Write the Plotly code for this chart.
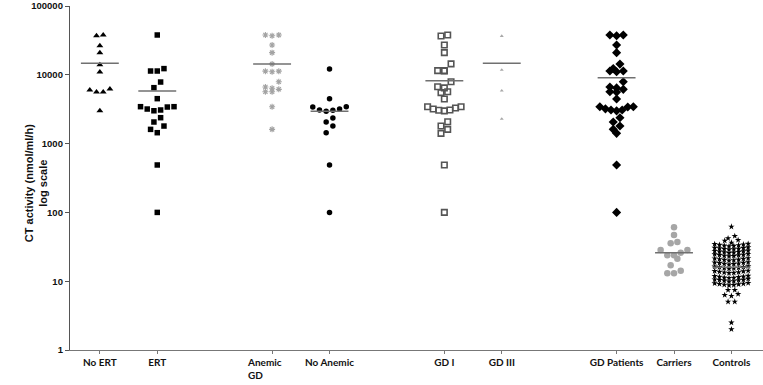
import numpy as np
import plotly.graph_objects as go

# ---------------- data ----------------
categories = ["No ERT", "ERT", "Anemic GD", "No Anemic", "GD I", "GD III",
              "GD Patients", "Carriers", "Controls"]
tick_labels = ["No ERT", "ERT", "", "No Anemic", "GD I", "GD III",
               "GD Patients", "Carriers", "Controls"]
group_sizes = [2, 2, 2, 3]          # categories per cluster along the x axis

no_ert = [37000, 38000, 26500, 21000, 14000, 11000, 6200, 5600, 5600, 6000, 3000]
ert = [37900, 11350, 11350, 12300, 7850, 6500, 4500, 3440, 3180, 3000, 3080,
       3400, 3440, 2380, 2060, 1800, 1610, 1440, 489, 100]
anemic_gd = [37900, 37000, 37900, 27100, 21000, 14400, 11300, 11100, 11300,
             7940, 6650, 6150, 5680, 5680, 6370, 3440, 1610]
no_anemic = [12100, 4500, 3400, 3080, 2950, 3050, 3180, 3440, 2350, 2060,
             1800, 1440, 489, 100]
gd_1 = [36600, 37900, 27100, 21000, 14400, 11500, 11350, 11500, 7940, 6700,
        6450, 5680, 5500, 4450, 3440, 3300, 3080, 2990, 3050, 3180, 3440,
        2080, 1800, 1610, 1410, 489, 100]
gd_3 = [36600, 11750, 5870, 2280]
gd_patients = [37900, 37000, 37900, 27100, 21000, 14300, 11350, 11100, 11350,
               12300, 7940, 6450, 5680, 5600, 6150, 6650, 4450, 3440, 3400,
               3080, 2990, 3080, 3200, 3440, 2380, 2060, 1800, 1610, 1410,
               489, 100]
carriers = [60.7, 47, 35.6, 37.2, 28.4, 25.9, 23.8, 21.2, 23.8, 28.4, 17.0,
            14.2, 13.0, 13.0]
controls = [62, 45.4, 42, 39.7, 38.8, 36.3,
            35.0, 34.6, 34.2, 33.8, 33.4, 33.0, 32.6, 32.2,
            31.0, 30.6, 30.3, 30.0, 29.7, 29.4, 29.1, 28.8,
            27.8, 27.5, 27.2, 26.9, 26.6, 26.3, 26.0, 25.7,
            24.9, 24.6, 24.3, 24.0, 23.8, 23.5, 23.2, 23.0,
            21.6, 21.4, 21.1, 20.9, 20.6, 20.4, 20.2, 20.0,
            18.9, 18.7, 18.5, 18.3, 18.1, 17.9, 17.7, 17.5,
            16.5, 16.3, 16.1, 15.9, 15.7, 15.5, 15.4, 15.2,
            14.2, 14.0, 13.9, 13.7, 13.5, 13.4, 13.2, 13.1,
            12.0, 11.9, 11.7, 11.6, 11.5, 11.3, 11.2, 11.1,
            10.8, 10.6, 10.5, 10.4, 10.3, 10.2, 10.0, 9.9,
            9.4, 9.3, 9.2, 9.1, 9.0, 8.9, 8.8, 8.7,
            7.45, 7.45, 6.5, 6.3, 6.1, 5.04, 5.04, 2.5, 2.0]
series = [no_ert, ert, anemic_gd, no_anemic, gd_1, gd_3, gd_patients, carriers, controls]
group_means = [14700, 5820, 14300, 2950, 8200, 14700, 9080, 25.9, 15.9]

y_tick_vals = [1, 10, 100, 1000, 10000, 100000]
y_tick_text = ["1", "10", "100", "1000", "10000", "100000"]

# ---------------- styles ----------------
W, H = 763, 385
M = dict(l=70, r=0, t=6, b=35)
X_RANGE = [-0.52, 11.55]
Y_RANGE = [0, 5]
PLOT_W = W - M["l"] - M["r"]
PLOT_H = H - M["t"] - M["b"]
px_per_x = PLOT_W / (X_RANGE[1] - X_RANGE[0])
px_per_dec = PLOT_H / (Y_RANGE[1] - Y_RANGE[0])

styles = [
    dict(symbol="triangle-up", size=6, color="black", line=dict(width=0)),
    dict(symbol="square", size=5.5, color="black", line=dict(width=0)),
    dict(symbol="asterisk-open", size=5, color="#a3a3a3", line=dict(width=1.1, color="#a3a3a3")),
    dict(symbol="circle", size=5.5, color="black", line=dict(width=0)),
    dict(symbol="square-open", size=5.5, color="#555555", line=dict(width=1.6, color="#555555")),
    dict(symbol="triangle-up", size=3.5, color="#a8a8a8", line=dict(width=0)),
    dict(symbol="diamond", size=7, color="black", line=dict(width=0)),
    dict(symbol="circle", size=6.5, color="#a6a6a6", line=dict(width=0)),
    dict(symbol="star", size=4.8, color="black", line=dict(width=0)),
]
row_tol_px = [6.8, 6.8, 6.8, 6.8, 6.8, 6.8, 6.8, 6.8, 2.75]
SPACING_PX = 6.7
MAX_ROW_PX = 33.5
MEAN_HALF = 0.33

# positions of categories: clusters separated by a gap of one slot
positions = []
p = 0
for g in group_sizes:
    for _ in range(g):
        positions.append(p)
        p += 1
    p += 1


def swarm_offsets(vals, tol_px):
    """Prism-like row layout: values within tol of a row start share a row,
    spread symmetrically with lowest values in the middle."""
    lv = np.log10(np.asarray(vals, dtype=float))
    order = np.argsort(-lv, kind="stable")
    rows, cur, start = [], [], None
    tol = tol_px / px_per_dec
    for i in order:
        if start is None or start - lv[i] > tol:
            if cur:
                rows.append(cur)
            cur, start = [i], lv[i]
        else:
            cur.append(i)
    if cur:
        rows.append(cur)
    off = np.zeros(len(vals))
    for r in rows:
        n = len(r)
        sp = SPACING_PX if n < 2 else min(SPACING_PX, MAX_ROW_PX / (n - 1))
        slots = [(k - (n - 1) / 2) * sp for k in range(n)]
        slots.sort(key=lambda s: (round(abs(s), 6), s))
        members = sorted(r, key=lambda i: lv[i])
        for s, i in zip(slots, members):
            off[i] = s / px_per_x
    return off


fig = go.Figure()
for name, vals, pos, st, tol in zip(categories, series, positions, styles, row_tol_px):
    off = swarm_offsets(vals, tol)
    fig.add_trace(go.Scatter(
        x=pos + off, y=vals, mode="markers", name=name, showlegend=False,
        marker=st, hoverinfo="y", cliponaxis=False))

for pos, m in zip(positions, group_means):
    fig.add_trace(go.Scatter(
        x=[pos - MEAN_HALF, pos + MEAN_HALF], y=[m, m], mode="lines",
        line=dict(color="#707070", width=1.5), showlegend=False, hoverinfo="skip"))

LABEL_FONT = dict(family="Lato", size=10, color="#111", weight="bold")

# Anemic GD label: left-aligned two-line label like the original
idx = categories.index("Anemic GD")
fig.add_annotation(
    x=positions[idx] - 0.47, y=0, xref="x", yref="paper",
    text="Anemic<br>GD", showarrow=False, xanchor="left", yanchor="top",
    align="left", yshift=-4, font=LABEL_FONT)

# y axis title (two lines, rotated)
fig.add_annotation(
    x=-34 / PLOT_W, y=0.485, xref="paper", yref="paper",
    text="CT activity (nmol/ml/h)<br>log scale", showarrow=False,
    textangle=-90, xanchor="center", yanchor="middle",
    font=dict(family="Liberation Sans", size=11, color="#111", weight="bold"))

fig.update_layout(
    width=W, height=H, margin=M,
    paper_bgcolor="white", plot_bgcolor="white",
    xaxis=dict(range=X_RANGE, tickmode="array", tickvals=positions,
               ticktext=tick_labels, showgrid=False, zeroline=False,
               showline=True, linecolor="#777777", linewidth=1.3,
               ticks="outside", ticklen=3, tickcolor="#777777",
               automargin=False, tickfont=LABEL_FONT),
    yaxis=dict(type="log", range=Y_RANGE, tickmode="array",
               tickvals=y_tick_vals, ticktext=y_tick_text,
               showgrid=False, zeroline=False, showline=True,
               linecolor="#555555", linewidth=1.3, ticks="outside",
               ticklen=4, tickcolor="#555555", automargin=False,
               tickfont=dict(family="Liberation Sans", size=9.5, color="#111", weight="bold")),
)

# remove the default page margin so the figure sits at the window's top-left
fig.write_html("out.html",
               config={"displayModeBar": False},
               post_script="document.body.style.margin='0';document.body.style.overflow='hidden';")
